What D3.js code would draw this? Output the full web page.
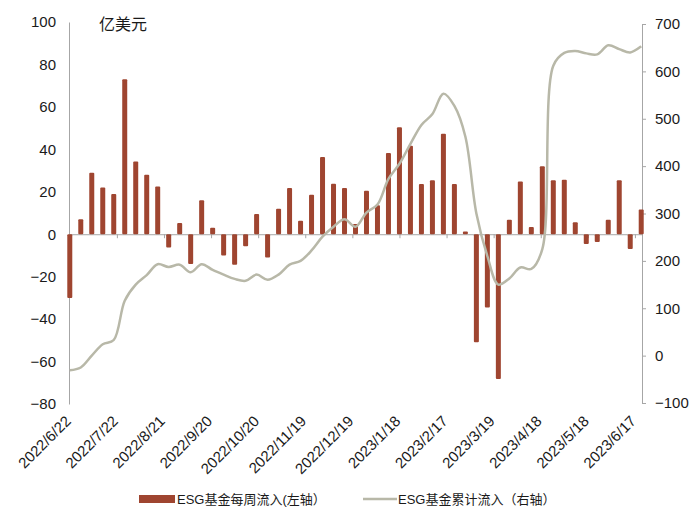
<!DOCTYPE html>
<html><head><meta charset="utf-8">
<script src="https://cdn.jsdelivr.net/npm/d3@7/dist/d3.min.js"></script>
<style>
body{margin:0;background:#fff;}
text{font-family:"Liberation Sans",Arial,"Noto Sans CJK SC",sans-serif;fill:#1a1a1a;}
</style></head>
<body><div id="chart"></div>
<script>
// ---- data ----
const firstWeek = "2022-06-22";
const weeklyFlow = [-30,7,29,22,19,73,34.3,28,22.5,-6.2,5.3,-14,16,3,-10,-14.4,-5.7,9.5,-11,12,21.8,6.4,18.6,36.4,23.8,21.8,4.8,20.5,13.6,38.3,50.4,41.7,23.7,25.4,47.4,23.7,1.3,-50.9,-34.5,-68.2,6.8,24.9,3.4,32,25.4,25.7,5.7,-4.6,-3.7,6.8,25.4,-7,11.6];
const cumulativeFlow = [-31,-25,0,24,33,116,150,170,193,187,192,176,193,181,171,162,158,171,160,171,192,200,222,251,272,288,272,302,319,373,405,447,487,510,553,527,462,300,210,150,163,186,183,225,612,639,643,638,636,655,647,640,653];
const tickLabels = ["2022/6/22","2022/7/22","2022/8/21","2022/9/20","2022/10/20","2022/11/19","2022/12/19","2023/1/18","2023/2/17","2023/3/19","2023/4/18","2023/5/18","2023/6/17"];
const leftTicks = [100,80,60,40,20,0,-20,-40,-60,-80];
const rightTicks = [700,600,500,400,300,200,100,0,-100];
const seriesNames = ["ESG基金每周流入(左轴）","ESG基金累计流入（右轴）"];
const unitLabel = "亿美元";

// ---- setup ----
const W = 700, H = 525;
const barColor = "#9F4530", lineColor = "#B8B8A8", axisColor = "#A6A6A6";
const svg = d3.select("#chart").append("svg").attr("width", W).attr("height", H);
svg.append("rect").attr("width", W).attr("height", H).attr("fill", "#fff");

const parse = d3.timeParse("%Y-%m-%d");
const parseLbl = d3.timeParse("%Y/%m/%d");
const start = parse(firstWeek);
const dates = weeklyFlow.map((_, i) => d3.timeDay.offset(start, 7 * i));

const x = d3.scaleTime()
  .domain([d3.timeHour.offset(start, -12), d3.timeHour.offset(dates[dates.length - 1], 12)])
  .range([69, 642]);
const yL = d3.scaleLinear().domain([-80, 100]).range([404, 22]);
const yR = d3.scaleLinear().domain([-100, 700]).range([403, 24]);

// left axis
const gL = svg.append("g").attr("transform", "translate(69,0)")
  .call(d3.axisLeft(yL).tickValues(leftTicks).tickSize(0).tickPadding(13));
gL.select(".domain").attr("stroke", axisColor);
gL.selectAll("text").attr("font-size", 15).attr("fill", "#1a1a1a");

// right axis
const gR = svg.append("g").attr("transform", "translate(642,0)")
  .call(d3.axisRight(yR).tickValues(rightTicks).tickSize(4).tickSizeOuter(0).tickPadding(9));
gR.select(".domain").attr("stroke", axisColor);
gR.selectAll("line").attr("stroke", axisColor);
gR.selectAll("text").attr("font-size", 15).attr("fill", "#1a1a1a");

// x axis at zero
const tickDates = tickLabels.map(s => parseLbl(s));
const gX = svg.append("g").attr("transform", `translate(0,${yL(0)})`)
  .call(d3.axisBottom(x).tickValues(tickDates).tickSize(4).tickSizeOuter(0).tickFormat(() => ""));
gX.select(".domain").attr("stroke", axisColor);
gX.selectAll("line").attr("stroke", axisColor);

// x labels
svg.append("g").selectAll("text").data(tickDates).join("text")
  .attr("transform", d => `translate(${x(d) + 2},422) rotate(-45)`)
  .attr("text-anchor", "end")
  .attr("font-size", 15)
  .text((d, i) => tickLabels[i]);

// bars
svg.append("g").selectAll("rect").data(weeklyFlow).join("rect")
  .attr("x", (d, i) => x(dates[i]) - 2.5)
  .attr("width", 5)
  .attr("y", d => yL(Math.max(0, d)))
  .attr("height", d => Math.abs(yL(d) - yL(0)))
  .attr("rx", 1)
  .attr("fill", barColor);

// line
const line = d3.line()
  .x((d, i) => x(dates[i]))
  .y(d => yR(d))
  .curve(d3.curveCatmullRom.alpha(0.5));
svg.append("path").datum(cumulativeFlow)
  .attr("d", line).attr("fill", "none")
  .attr("stroke", lineColor).attr("stroke-width", 2.5);

// unit label
svg.append("text").attr("x", 99).attr("y", 30).attr("font-size", 16).text(unitLabel);

// legend
svg.append("rect").attr("x", 139).attr("y", 495).attr("width", 36).attr("height", 8).attr("fill", barColor);
svg.append("text").attr("x", 177).attr("y", 499).attr("dy", "0.35em").attr("font-size", 13).text(seriesNames[0]);
svg.append("line").attr("x1", 363).attr("x2", 397).attr("y1", 499).attr("y2", 499)
  .attr("stroke", lineColor).attr("stroke-width", 2.5);
svg.append("text").attr("x", 398).attr("y", 499).attr("dy", "0.35em").attr("font-size", 13).text(seriesNames[1]);
</script>
</body></html>
